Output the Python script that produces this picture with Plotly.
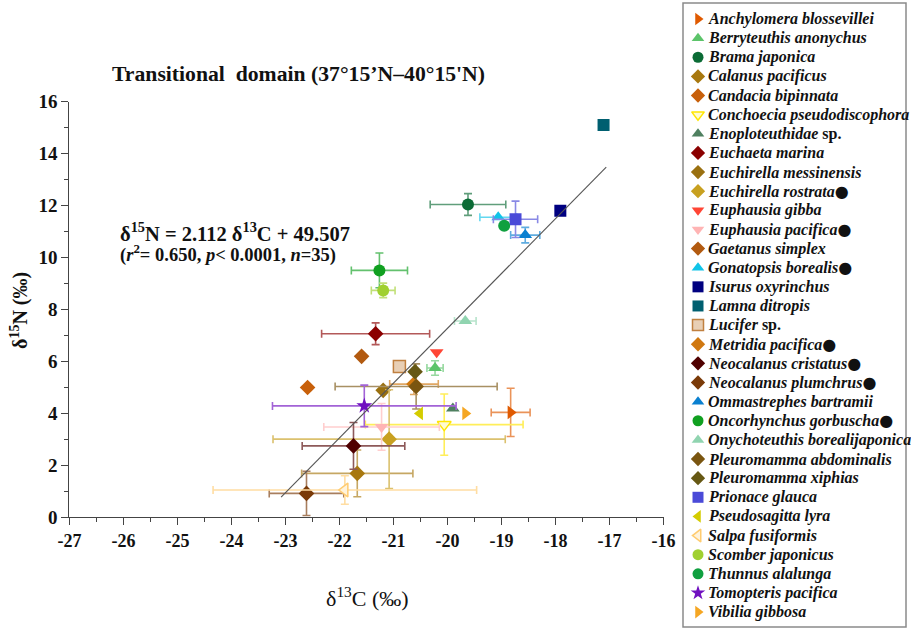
import plotly.graph_objects as go

# ---------------- data ----------------
species = [
    "Anchylomera blossevillei", "Berryteuthis anonychus", "Brama japonica",
    "Calanus pacificus", "Candacia bipinnata", "Conchoecia pseudodiscophora",
    "Enoploteuthidae sp.", "Euchaeta marina", "Euchirella messinensis",
    "Euchirella rostrata", "Euphausia gibba", "Euphausia pacifica",
    "Gaetanus simplex", "Gonatopsis borealis", "Isurus oxyrinchus",
    "Lamna ditropis", "Lucifer sp.", "Metridia pacifica",
    "Neocalanus cristatus", "Neocalanus plumchrus", "Ommastrephes bartramii",
    "Oncorhynchus gorbuscha", "Onychoteuthis borealijaponica",
    "Pleuromamma abdominalis", "Pleuromamma xiphias", "Prionace glauca",
    "Pseudosagitta lyra", "Salpa fusiformis", "Scomber japonicus",
    "Thunnus alalunga", "Tomopteris pacifica", "Vibilia gibbosa",
]
has_dot = [False, False, False, False, False, False, False, False, False,
           True, False, True, False, True, False, False, False, True,
           True, True, False, True, False, False, False, False, False,
           False, False, False, False, False]

d13c = [-18.83, -20.23, -19.62, -21.67, -22.59, -20.06, -19.90, -21.33, -21.19,
        -21.08, -20.20, -21.22, -21.59, -19.06, -17.91, -17.11, -20.89, -20.62,
        -21.74, -22.61, -18.56, -21.26, -19.67, -20.58, -20.60, -18.74, -20.51,
        -21.90, -21.19, -18.95, -21.54, -19.67]
d15n = [4.03, 5.74, 12.04, 1.68, 4.99, 3.56, 4.18, 7.06, 4.88,
        3.00, 6.35, 3.47, 6.19, 11.55, 11.80, 15.10, 5.80, 5.12,
        2.74, 0.91, 10.86, 9.50, 7.55, 5.03, 5.60, 11.47, 3.99,
        1.04, 8.73, 11.22, 4.28, 3.99]
sd13c = [0.36, 0.15, 0.70, 1.03, 0.0, 1.46, 0.0, 1.00, 0.0,
         2.15, 0.0, 1.07, 0.0, 0.34, 0.0, 0.0, 0.0, 0.45,
         0.95, 0.69, 0.27, 0.52, 0.20, 1.50, 0.0, 0.41, 0.0,
         2.44, 0.22, 0.0, 1.70, 0.0]
sd15n = [0.93, 0.28, 0.42, 0.90, 0.0, 1.18, 0.0, 0.42, 0.0,
         1.90, 0.0, 0.90, 0.0, 0.0, 0.0, 0.0, 0.0, 0.40,
         0.90, 0.85, 0.30, 0.67, 0.0, 0.87, 0.0, 0.70, 0.0,
         0.55, 0.28, 0.0, 0.80, 0.0]

# regression: d15N = slope * d13C + intercept
slope, intercept = 2.112, 49.507
fit_x = [-23.08, -17.06]

x_ticks = list(range(-27, -15))
x_ticklabels = [str(v) for v in x_ticks]
y_ticks = list(range(0, 17, 2))

# ---------------- styles ----------------
colors = ["#E05A00", "#5CC46A", "#0B6B35", "#A8780F", "#C8600A", "#FFE600",
          "#4F8060", "#8B0000", "#9A7010", "#C8A020", "#FF4535", "#FFB4B4",
          "#B25A10", "#10C4E8", "#000080", "#005F70", "#C08040", "#D07810",
          "#500000", "#7A3A08", "#0A80D0", "#10A020", "#90D4B0", "#7A5510",
          "#665814", "#4A4AD8", "#D4CC00", "#FFCC70", "#A0D030", "#10A040",
          "#7010C0", "#F5A623"]
symbols = ["triangle-right", "triangle-up", "circle", "diamond", "diamond",
           "triangle-down", "triangle-up", "diamond", "diamond", "diamond",
           "triangle-down", "triangle-down", "diamond", "triangle-up", "square",
           "square", "square", "diamond", "diamond", "diamond", "triangle-up",
           "circle", "triangle-up", "diamond", "diamond", "square",
           "triangle-left", "triangle-left", "circle", "circle", "star",
           "triangle-right"]
fills = list(colors)
fills[5] = "#FFFBD0"
fills[16] = "#E8CFB5"
fills[27] = "#FFF3DC"

FONT = "Liberation Serif, Times New Roman, serif"
W, H = 911, 630
px = lambda v: v / W
py = lambda v: 1 - v / H


def lighten(hexc, f=0.35):
    hexc = hexc.lstrip("#")
    r, g, b = (int(hexc[i:i + 2], 16) for i in (0, 2, 4))
    r, g, b = (int(c + (255 - c) * f) for c in (r, g, b))
    return f"#{r:02x}{g:02x}{b:02x}"


fig = go.Figure()

for i, name in enumerate(species):
    ec = lighten(colors[i])
    fig.add_trace(go.Scatter(
        x=[d13c[i]], y=[d15n[i]], mode="markers", name=name, showlegend=False,
        marker=dict(symbol=symbols[i], size=12, color=fills[i],
                    line=dict(color=colors[i], width=1.5 if fills[i] != colors[i] else 0)),
        error_x=dict(type="data", array=[sd13c[i]], visible=sd13c[i] > 0,
                     color=ec, thickness=1.6, width=4),
        error_y=dict(type="data", array=[sd15n[i]], visible=sd15n[i] > 0,
                     color=ec, thickness=1.6, width=4),
    ))

fig.add_trace(go.Scatter(
    x=fit_x, y=[slope * v + intercept for v in fit_x], mode="lines",
    line=dict(color="#555555", width=1.1), showlegend=False, hoverinfo="skip"))

# ---- manual legend on its own axes ----
n = len(species)
fig.add_trace(go.Scatter(
    x=[15] * n, y=list(range(n)), mode="markers", xaxis="x2", yaxis="y2",
    showlegend=False, hoverinfo="skip",
    marker=dict(symbol=symbols, size=11, color=fills,
                line=dict(color=colors, width=[1.5 if f != c else 0 for f, c in zip(fills, colors)]))))

annotations = []
for i, name in enumerate(species):
    if name.endswith(" sp."):
        txt = f"<b><i>{name[:-4]}</i> sp.</b>"
    else:
        txt = f"<b><i>{name}</i></b>"
    if has_dot[i]:
        txt += "<span style='font-family:DejaVu Sans'>●</span>"
    annotations.append(dict(x=22.5, y=i, xref="x2", yref="y2", text=txt,
                            showarrow=False, xanchor="left", yanchor="middle",
                            font=dict(family=FONT, size=16, color="#111")))

annotations += [
    dict(x=px(298), y=py(74), xref="paper", yref="paper",
         text="<b>Transitional  domain (37°15’N–40°15'N)</b>", showarrow=False,
         xanchor="center", yanchor="middle", font=dict(family=FONT, size=21.7, color="#111")),
    dict(x=px(118), y=py(232), xref="paper", yref="paper",
         text="<b>δ<sup>15</sup>N = 2.112 δ<sup>13</sup>C + 49.507</b>", showarrow=False,
         xanchor="left", yanchor="middle", font=dict(family=FONT, size=20.5, color="#111")),
    dict(x=px(118), y=py(253), xref="paper", yref="paper",
         text="<b>(<i>r</i><sup>2</sup>= 0.650, <i>p</i>< 0.0001, <i>n</i>=35)</b>", showarrow=False,
         xanchor="left", yanchor="middle", font=dict(family=FONT, size=18.5, color="#111")),
    dict(x=px(367), y=py(597), xref="paper", yref="paper",
         text="δ<sup>13</sup>C (‰)", showarrow=False,
         xanchor="center", yanchor="middle", font=dict(family=FONT, size=22, color="#111")),
    dict(x=px(19), y=py(311), xref="paper", yref="paper", textangle=-90,
         text="<b>δ<sup>15</sup>N (‰)</b>", showarrow=False,
         xanchor="center", yanchor="middle", font=dict(family=FONT, size=20, color="#111")),
]

axis_line = "#444444"
fig.update_layout(
    template="none",
    width=W, height=H, margin=dict(l=0, r=0, t=0, b=0, autoexpand=False),
    paper_bgcolor="white", plot_bgcolor="white",
    font=dict(family=FONT, color="#111"),
    xaxis=dict(domain=[px(69.4), px(663.5)], range=[-27, -16], tickvals=x_ticks,
               ticktext=x_ticklabels, ticks="outside", ticklen=7, tickwidth=1.2,
               tickcolor=axis_line, showline=True, linecolor=axis_line, linewidth=1.2,
               showgrid=False, zeroline=False, automargin=False,
               tickfont=dict(family=FONT, size=18, weight="bold", color="#111"),
               minor=dict(ticks="outside", ticklen=4, dtick=0.5, tickcolor=axis_line, tickwidth=1.2)),
    yaxis=dict(domain=[1 - 517 / H, 1 - 101.7 / H], range=[0, 16], tickvals=y_ticks,
               ticks="outside", ticklen=7, tickwidth=1.2, tickcolor=axis_line,
               showline=True, linecolor=axis_line, linewidth=1.2,
               showgrid=False, zeroline=False, automargin=False,
               tickfont=dict(family=FONT, size=19, weight="bold", color="#111"),
               minor=dict(ticks="outside", ticklen=4, dtick=1, tickcolor=axis_line, tickwidth=1.2)),
    xaxis2=dict(domain=[px(683), px(906)], range=[0, 223], visible=False,
                fixedrange=True, automargin=False),
    yaxis2=dict(domain=[1 - 627 / H, 1 - 3 / H], range=[31.78, -0.836], visible=False,
                anchor="x2", fixedrange=True, automargin=False),
    shapes=[dict(type="rect", xref="paper", yref="paper", x0=px(683), x1=px(906),
                 y0=py(627), y1=py(3), line=dict(color="#8a8a8a", width=1.5))],
    annotations=annotations,
)

fig.write_html("out.html")
